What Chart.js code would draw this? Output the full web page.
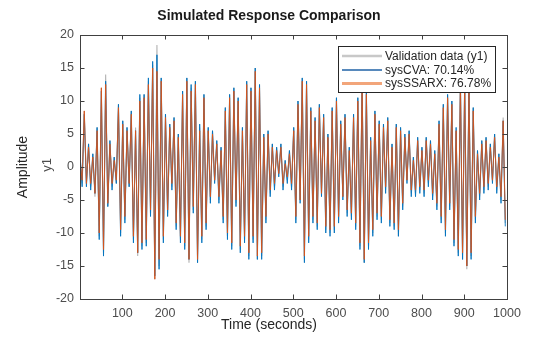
<!DOCTYPE html>
<html>
<head>
<meta charset="utf-8">
<script src="https://cdn.jsdelivr.net/npm/chart.js@4.4.0/dist/chart.umd.min.js"></script>
<style>
  html, body { margin: 0; padding: 0; background: #fff; }
  #wrap { width: 560px; height: 337px; }
</style>
</head>
<body>
<div id="wrap"><canvas id="compareChart" width="560" height="337"></canvas></div>
<script>
// measured output y1 and simulated model outputs, one sample every 5 s
const validationData = [
  1.5,-2.5,8.5,-2.5,3.5,-3,2,-4.5,6,-10.5,
  12,-13,14,-6,4,-3,1.5,-2.5,9.5,-10,
  7,-8,6,-3,8.5,-11,6,-13.5,10.5,-12,
  11,-11.5,13,-7,15.5,-17,18.5,-15,13.5,-11,
  8,-7,6.5,-3,7.5,-9,5,-11,11.5,-12,
  13.5,-14.5,12,-6.5,13,-14.5,6,-11,11,-9,
  6,-5,5.5,-2,4,-5,3,-8,9,-10.5,
  11,-12,12,-5.5,10.5,-12.5,6,-11,13,-13.5,
  12,-11,15,-14,12.5,-13.5,5,-8,5.5,-4,
  3.5,-3,3,-1,3.5,-3,1,-2,2.5,-3,
  6,-8,10,-5,13.5,-14,13,-11,9,-8,
  7.5,-9,9.5,-4,8,-9.5,5,-10,9,-9.5,
  10.5,-8,7,-4.5,8,-7,3,-7.5,8,-9,
  10.5,-12,12.5,-14.5,11.5,-12,4.5,-10,8.5,-7.5,
  7,-8,6.5,-3.5,7.5,-8.5,3.5,-9,6.5,-10.5,
  6,-6,5,-2,5.5,-4,1.5,-4,4.5,-3.5,
  3,-4,4.5,-2.5,4,-4.5,2.5,-6,7,-8,
  9.5,-10,11,-6,10,-11.5,5.5,-13,12.5,-14,
  13,-15.5,12.5,-13.5,9,-8,2.5,-4.5,4,-3.5,
  4.5,-3,3.5,-2,5,-3.5,2,-5,7.5,-8.5
];
const sysCVAData = [
  2,-3,8,-3,3.5,-3.5,2,-4,6,-11,
  11.5,-13.5,13,-6,4,-3.5,1.5,-2.5,9.5,-10.5,
  7,-8.5,6,-3,8.5,-11.5,5.5,-13,11,-12.5,
  11,-12,13.5,-7.5,16,-16.5,17,-15.5,13.5,-11.5,
  8,-7.5,6.5,-3.5,7.5,-9.5,5,-11.5,11.5,-12.5,
  13.5,-14,12.5,-7,13,-14.5,6.5,-11.5,11,-9.5,
  6,-5.5,5.5,-2.5,4,-5.5,3,-8.5,9,-11,
  11,-12.5,12,-6,10.5,-13,6,-11.5,13,-14,
  12,-11.5,15,-14,12.5,-14,5,-8.5,5.5,-4.5,
  3.5,-3.5,3,-1.5,3.5,-3.5,1,-2.5,2.5,-3.5,
  6,-8.5,10,-5.5,13.5,-14.5,13,-11.5,9,-8.5,
  7.5,-9.5,9.5,-4.5,8,-10,5,-10.5,9,-10,
  10.5,-8.5,7,-5,8,-7.5,3,-8,8,-9.5,
  10.5,-12.5,13,-14.5,11.5,-12.5,4.5,-10.5,8.5,-8,
  7,-8.5,6.5,-4,7.5,-9,3.5,-9.5,6.5,-10.5,
  6,-6.5,5,-2.5,5.5,-4.5,1.5,-4.5,4.5,-4,
  3,-4.5,4.5,-3,4,-5,2.5,-6.5,7,-8.5,
  9.5,-10.5,11,-6.5,10,-12,6,-13.5,13,-14,
  13,-15,12.5,-14,9,-8.5,2.5,-5,4,-4,
  4.5,-3.5,3.5,-2.5,5,-4,2,-5.5,7,-9
];
const sysSSARXData = [
  1,-2,8.5,-2.5,3,-2.5,1.5,-4,5.5,-10,
  12,-12.5,12.5,-5.5,3.5,-2.5,1,-2,9,-9.5,
  6.5,-7.5,5.5,-2.5,8,-10.5,5.5,-13,10,-11.5,
  10.5,-11,12.5,-6.5,15,-17,14.5,-14,13,-10.5,
  7.5,-6.5,6,-2.5,7,-8.5,4.5,-10.5,11,-11.5,
  13,-14,11.5,-6,12.5,-14,5.5,-10.5,10.5,-8.5,
  5.5,-4.5,5,-2,3.5,-4.5,2.5,-7.5,8.5,-10,
  10.5,-11.5,11.5,-5,10,-12,5.5,-10.5,12.5,-13,
  11.5,-10.5,14.5,-13.5,12,-13,4.5,-7.5,5,-3.5,
  3,-2.5,2.5,-1,3,-2.5,0.5,-1.5,2,-2.5,
  5.5,-7.5,9.5,-5,13,-13.5,12.5,-10.5,8.5,-7.5,
  7,-8.5,9,-4,7.5,-9,4.5,-9.5,8.5,-9,
  10,-7.5,6.5,-4.5,7.5,-6.5,2.5,-7,7.5,-8.5,
  10,-11.5,13,-14,11,-11.5,4,-9.5,8,-7,
  6.5,-7.5,6,-3,7,-8,3,-8.5,6,-9.5,
  5.5,-5.5,4.5,-2,5,-3.5,1,-3.5,4,-3,
  2.5,-3.5,4,-2,3.5,-4,2,-5.5,6.5,-7.5,
  9,-9.5,10.5,-5.5,9.5,-11,5.5,-12.5,13,-13,
  12.5,-15,12,-13,8.5,-7.5,2,-4,3.5,-3,
  4,-2.5,3,-2,4.5,-3,1.5,-4.5,7,-8
];
const seriesLabels = ['Validation data (y1)', 'sysCVA: 70.14%', 'sysSSARX: 76.78%'];
const xTicks = [100, 200, 300, 400, 500, 600, 700, 800, 900, 1000];
const yTicks = [-20, -15, -10, -5, 0, 5, 10, 15, 20];

const sampleTimes = validationData.map((_, i) => 1 + 5 * i);
const toPoints = arr => arr.map((v, i) => ({ x: sampleTimes[i], y: v }));

const FONT = '"Liberation Sans", Arial, Helvetica, sans-serif';
const legendStyles = [
  { color: '#c8c8c8', width: 2.5 },
  { color: '#1f62a6', width: 1.5 },
  { color: '#f2a57a', width: 3 }
];

// matlab-style frame: box, inner ticks, labels, legend
const decorPlugin = {
  id: 'decor',
  afterDraw(chart) {
    const ctx = chart.ctx;
    const a = chart.chartArea;
    const xs = chart.scales.x, ys = chart.scales.y;
    ctx.save();
    ctx.strokeStyle = '#404040';
    ctx.lineWidth = 1;
    ctx.strokeRect(Math.round(a.left) + 0.5, Math.round(a.top) + 0.5,
      Math.round(a.right - a.left), Math.round(a.bottom - a.top));
    ctx.beginPath();
    xTicks.forEach(v => {
      const px = Math.round(xs.getPixelForValue(v)) + 0.5;
      ctx.moveTo(px, a.bottom); ctx.lineTo(px, a.bottom - 4.5);
      ctx.moveTo(px, a.top); ctx.lineTo(px, a.top + 4.5);
    });
    yTicks.forEach(v => {
      const py = Math.round(ys.getPixelForValue(v)) + 0.5;
      ctx.moveTo(a.left, py); ctx.lineTo(a.left + 4.5, py);
      ctx.moveTo(a.right, py); ctx.lineTo(a.right - 4.5, py);
    });
    ctx.stroke();

    ctx.fillStyle = '#1a1a1a';
    ctx.textAlign = 'center';
    ctx.textBaseline = 'middle';
    ctx.font = 'bold 14px ' + FONT;
    ctx.fillText('Simulated Response Comparison', 269, 16);
    ctx.fillStyle = '#262626';
    ctx.font = '14px ' + FONT;
    ctx.fillText('Time (seconds)', 269, 325);

    ctx.save();
    ctx.translate(23, 167);
    ctx.rotate(-Math.PI / 2);
    ctx.fillText('Amplitude', 0, 0);
    ctx.restore();
    ctx.save();
    ctx.translate(47, 165);
    ctx.rotate(-Math.PI / 2);
    ctx.fillStyle = '#4d4d4d';
    ctx.font = '13px ' + FONT;
    ctx.fillText('y1', 0, 0);
    ctx.restore();

    // legend
    ctx.fillStyle = '#ffffff';
    ctx.fillRect(338.5, 46.5, 157, 46);
    ctx.strokeStyle = '#262626';
    ctx.strokeRect(338.5, 46.5, 157, 46);
    const rows = [56, 70, 83.5];
    ctx.textAlign = 'left';
    ctx.font = '12px ' + FONT;
    seriesLabels.forEach((lab, i) => {
      ctx.beginPath();
      ctx.strokeStyle = legendStyles[i].color;
      ctx.lineWidth = legendStyles[i].width;
      ctx.moveTo(342, rows[i]); ctx.lineTo(382, rows[i]);
      ctx.stroke();
      ctx.fillStyle = '#262626';
      ctx.fillText(lab, 385, rows[i] + 0.5);
    });
    ctx.restore();
  }
};

new Chart(document.getElementById('compareChart'), {
  type: 'line',
  data: {
    datasets: [
      { label: seriesLabels[0], data: toPoints(validationData), borderColor: '#b3b3b3', borderWidth: 1.1, order: 3 },
      { label: seriesLabels[1], data: toPoints(sysCVAData), borderColor: '#0072BD', borderWidth: 0.9, order: 2 },
      { label: seriesLabels[2], data: toPoints(sysSSARXData), borderColor: '#D95319', borderWidth: 0.9, order: 1 }
    ]
  },
  options: {
    responsive: false,
    animation: false,
    events: [],
    elements: { point: { radius: 0 }, line: { tension: 0 } },
    layout: { padding: { top: 35, right: 53, bottom: 0, left: 0 } },
    plugins: { legend: { display: false }, title: { display: false }, tooltip: { enabled: false } },
    scales: {
      x: {
        type: 'linear', min: 1, max: 1000,
        afterBuildTicks: s => { s.ticks = xTicks.map(v => ({ value: v })); },
        afterFit: s => { s.height = 38; },
        grid: { display: false, drawTicks: false },
        border: { display: false },
        ticks: { color: '#4d4d4d', font: { family: FONT, size: 12.5 }, padding: 7, maxRotation: 0, callback: v => String(v) }
      },
      y: {
        min: -20, max: 20,
        afterBuildTicks: s => { s.ticks = yTicks.map(v => ({ value: v })); },
        afterFit: s => { s.width = 80; },
        grid: { display: false, drawTicks: false },
        border: { display: false },
        ticks: { color: '#4d4d4d', font: { family: FONT, size: 12.5 }, padding: 6, callback: v => String(v) }
      }
    }
  },
  plugins: [decorPlugin]
});
</script>
</body>
</html>
